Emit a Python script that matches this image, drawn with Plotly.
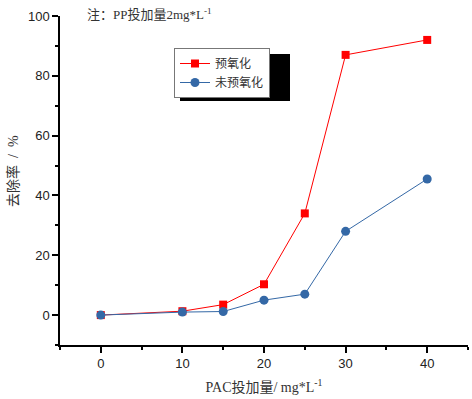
import plotly.graph_objects as go

pac_dose = [0, 10, 15, 20, 25, 30, 40]
pre_ox = [0, 1.3, 3.5, 10.3, 34, 87, 92]
no_pre_ox = [0, 1.0, 1.2, 5, 7, 28, 45.5]
series_names = ["预氧化", "未预氧化"]

W, H = 472, 399
L, R, T, B = 60, 4, 16, 54
pw, ph = W - L - R, H - T - B

def px2paper(x, y):
    return (x - L) / pw, (H - B - y) / ph

cjk = "Liberation Serif, Noto Sans CJK SC"

fig = go.Figure()
fig.add_trace(go.Scatter(x=pac_dose, y=pre_ox, name=series_names[0], mode="lines+markers",
                         line=dict(color="#ff0000", width=1),
                         marker=dict(symbol="square", size=8, color="#ff0000")))
fig.add_trace(go.Scatter(x=pac_dose, y=no_pre_ox, name=series_names[1], mode="lines+markers",
                         line=dict(color="#3468a6", width=1),
                         marker=dict(symbol="circle", size=9, color="#3468a6")))

x0, y0 = px2paper(180, 101)
x1, y1 = px2paper(290, 54)
fig.add_shape(type="rect", xref="paper", yref="paper", x0=x0, y0=y0, x1=x1, y1=y1,
              fillcolor="black", line=dict(width=0), layer="above")

lx, ly = px2paper(174, 48)
fig.update_layout(
    width=W, height=H,
    margin=dict(l=L, r=R, t=T, b=B, autoexpand=False),
    plot_bgcolor="white", paper_bgcolor="white",
    showlegend=True,
    legend=dict(x=lx, y=ly, xanchor="left", yanchor="top",
                bgcolor="white", bordercolor="#777777", borderwidth=1,
                font=dict(family=cjk, size=12, color="#333333"),
                tracegroupgap=0, itemwidth=30),
    xaxis=dict(range=[-5, 45], tickvals=[0, 10, 20, 30, 40], automargin=False,
               showgrid=False, zeroline=False, showline=True, linecolor="black", linewidth=1.5,
               ticks="outside", ticklen=6, tickwidth=1.5, tickcolor="black",
               minor=dict(tickvals=[-5, 5, 15, 25, 35, 45], ticks="outside", ticklen=3, tickwidth=1.5, tickcolor="black"),
               tickfont=dict(family="Liberation Sans, Arial", size=13, color="#222"),
               title=dict(text="PAC投加量/ mg*L<sup>-1</sup>", font=dict(family=cjk, size=14, color="#333"), standoff=12)),
    yaxis=dict(range=[-10, 100], tickvals=[0, 20, 40, 60, 80, 100], automargin=False,
               showgrid=False, zeroline=False, showline=True, linecolor="black", linewidth=1.5,
               ticks="outside", ticklen=6, tickwidth=1.5, tickcolor="black",
               minor=dict(tickvals=[-10, 10, 30, 50, 70, 90], ticks="outside", ticklen=3, tickwidth=1.5, tickcolor="black"),
               tickfont=dict(family="Liberation Sans, Arial", size=13, color="#222")),
)

tx, ty = px2paper(13, 171)
fig.add_annotation(x=tx, y=ty, xref="paper", yref="paper", xanchor="center", yanchor="middle",
                   text="去除率  /  %", textangle=-90, showarrow=False,
                   font=dict(family=cjk, size=14, color="#333"))

ax, ay = px2paper(85, 14)
fig.add_annotation(x=ax, y=ay, xref="paper", yref="paper", xanchor="left", yanchor="middle",
                   text="注：PP投加量2mg*L<sup>-1</sup>", showarrow=False,
                   font=dict(family=cjk, size=13, color="#333"))

fig.write_html("out.html", config={"displayModeBar": False},
               post_script="document.body.style.margin='0px';")
